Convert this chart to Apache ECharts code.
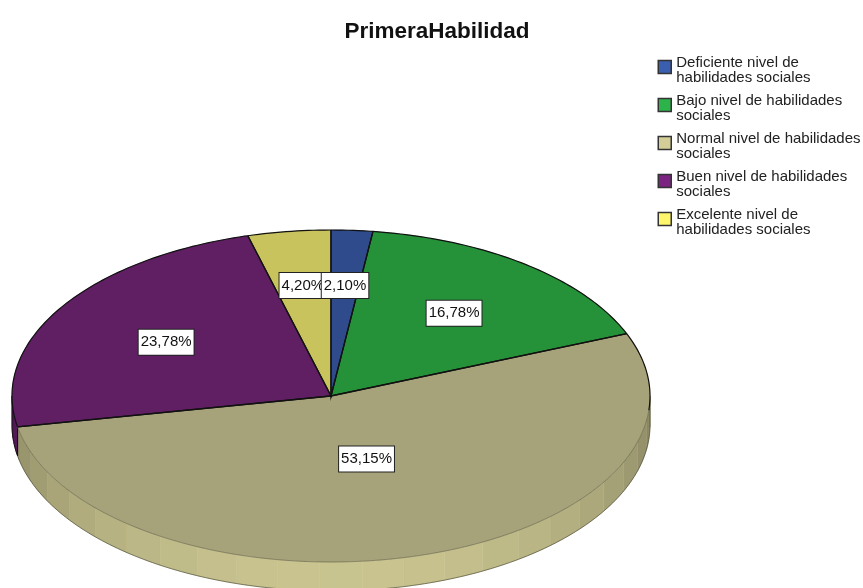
<!DOCTYPE html>
<html>
<head>
<meta charset="utf-8">
<title>PrimeraHabilidad</title>
<script src="https://cdn.jsdelivr.net/npm/echarts@6/dist/echarts.min.js"></script>
<style>
  html, body { margin: 0; padding: 0; background: #fff; }
  #chart { width: 863px; height: 588px; overflow: hidden; }
</style>
</head>
<body>
<div id="chart"></div>
<script>
const categories = [
  'Deficiente nivel de\nhabilidades sociales',
  'Bajo nivel de habilidades\nsociales',
  'Normal nivel de habilidades\nsociales',
  'Buen nivel de habilidades\nsociales',
  'Excelente nivel de\nhabilidades sociales'
];
const percents = [2.10, 16.78, 53.15, 23.78, 4.20];
const percentLabels = ['2,10%', '16,78%', '53,15%', '23,78%', '4,20%'];
const legendColors = ['#3a5fb0', '#2cb34a', '#d3ce97', '#7a2380', '#fff66b'];
const topColors = ['#2f4b8c', '#25923a', '#a6a279', '#5f1f62', '#c9c35e'];

// Tilted pie geometry (ellipse on the page)
const cx = 331, cy = 396, rx = 319, ry = 166, depth = 29;
// how far out the label sits, as a share of the radius
const labelReach = [0.667, 0.63, 0.395, 0.61, 0.672];
const facetStart = 144, facetStep = 7.6;

const total = percents.reduce((a, b) => a + b, 0);

function pointAt(deg, drop) {
  const t = deg * Math.PI / 180;
  return [cx + rx * Math.sin(t), cy - ry * Math.cos(t) + (drop || 0)];
}

function arcPoints(from, to, drop) {
  const pts = [];
  for (let d = from; d < to; d += 1) pts.push(pointAt(d, drop));
  pts.push(pointAt(to, drop));
  return pts;
}

function shade(hex, k) {
  const n = parseInt(hex.slice(1), 16);
  const c = [n >> 16, (n >> 8) & 255, n & 255].map(v => Math.round(v * k));
  return 'rgb(' + c.join(',') + ')';
}

function makeRenderItem(index) {
  return function (params, api) {
    const start = api.value(1) / total * 360;
    const end = start + api.value(0) / total * 360;
    const children = [];

    // Side wall, only the front half of the disc shows
    const wallFrom = Math.max(start, 90);
    const wallTo = Math.min(end, 270);
    if (wallFrom < wallTo) {
      const cuts = [wallFrom];
      for (let d = facetStart - facetStep * 8; d < 270; d += facetStep) {
        if (d > wallFrom && d < wallTo) cuts.push(d);
      }
      cuts.push(wallTo);
      for (let i = 0; i < cuts.length - 1; i++) {
        const a = cuts[i], b = cuts[i + 1];
        const mid = (a + b) / 2;
        const k = 0.64 + 0.31 * Math.abs(Math.cos((mid - 180) * Math.PI / 180));
        const upper = arcPoints(a, b, 0);
        const lower = arcPoints(a, b, depth).reverse();
        children.push({
          type: 'polygon',
          z2: 1,
          shape: { points: upper.concat(lower) },
          style: { fill: shade(legendColors[index], k), stroke: shade(legendColors[index], k), lineWidth: 0.5 }
        });
      }
      children.push({
        type: 'polyline',
        z2: 2,
        shape: { points: [pointAt(wallFrom, 0)].concat(arcPoints(wallFrom, wallTo, depth), [pointAt(wallTo, 0)]) },
        style: { fill: null, stroke: index === 2 ? 'rgba(60,60,40,0.6)' : '#111', lineWidth: 1 }
      });
    }

    // Top face
    const arc = arcPoints(start, end, 0);
    children.push({
      type: 'polygon',
      z2: 3,
      shape: { points: [[cx, cy]].concat(arc) },
      style: { fill: topColors[index], stroke: topColors[index], lineWidth: 0.3 }
    });

    // Rim: black round the back, faint along the front
    const backTo = Math.min(end, 95);
    if (start < backTo) {
      children.push({
        type: 'polyline',
        z2: 4,
        shape: { points: arcPoints(start, backTo, 0) },
        style: { fill: null, stroke: '#111', lineWidth: 1.2 }
      });
    }
    const frontFrom = Math.max(start, 95);
    if (frontFrom < end) {
      children.push({
        type: 'polyline',
        z2: 4,
        shape: { points: arcPoints(frontFrom, end, 0) },
        style: index === 2
          ? { fill: null, stroke: 'rgba(70,70,50,0.55)', lineWidth: 0.8 }
          : { fill: null, stroke: '#111', lineWidth: 1.2 }
      });
    }

    // Slice borders
    children.push({
      type: 'polyline',
      z2: 5,
      shape: { points: [pointAt(start, 0), [cx, cy], pointAt(end, 0)] },
      style: { fill: null, stroke: '#111', lineWidth: 1.3 }
    });

    // Percent box
    const mid = (start + end) / 2 * Math.PI / 180;
    children.push({
      type: 'text',
      z2: index === 0 ? 12 : 10,
      style: {
        text: percentLabels[index],
        x: cx + rx * labelReach[index] * Math.sin(mid),
        y: cy - ry * labelReach[index] * Math.cos(mid),
        align: 'center',
        verticalAlign: 'middle',
        fill: '#111',
        font: '15px "Liberation Sans", Arial, sans-serif',
        backgroundColor: '#fff',
        borderColor: '#222',
        borderWidth: 1,
        padding: [5, 2, 5, 2]
      }
    });

    return { type: 'group', children: children };
  };
}

let before = 0;
const series = categories.map((name, i) => {
  const item = {
    name: name,
    type: 'custom',
    coordinateSystem: 'none',
    silent: true,
    itemStyle: { color: legendColors[i] },
    data: [[percents[i], before]],
    renderItem: makeRenderItem(i)
  };
  before += percents[i];
  return item;
});

const chart = echarts.init(document.getElementById('chart'));
chart.setOption({
  animation: false,
  title: {
    text: 'PrimeraHabilidad',
    left: 432,
    top: 15,
    textAlign: 'center',
    textStyle: { color: '#111', fontSize: 22.5, fontWeight: 'bold', fontFamily: '"Liberation Sans", Arial, sans-serif' }
  },
  legend: {
    orient: 'vertical',
    left: 657.5,
    top: 49,
    padding: 0,
    itemWidth: 13,
    itemHeight: 13,
    itemGap: 2,
    selectedMode: false,
    icon: 'rect',
    itemStyle: { borderColor: '#333', borderWidth: 1.5 },
    // small spacer line on top: the swatch sits a little above the middle of the text
    formatter: name => '{g| }\n{t|' + name.split('\n').join('}\n{t|') + '}',
    textStyle: {
      rich: {
        g: { fontSize: 6, lineHeight: 6 },
        t: { color: '#222', fontSize: 15, lineHeight: 15, fontFamily: '"Liberation Sans", Arial, sans-serif' }
      }
    },
    data: categories
  },
  series: series
});
</script>
</body>
</html>
